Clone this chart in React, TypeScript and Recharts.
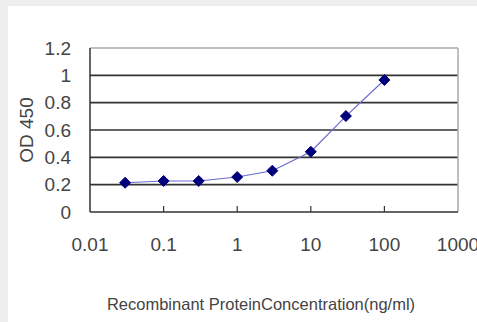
import React from "react";
import { LineChart, Line, XAxis, YAxis, ReferenceLine, Label } from "recharts";

const concentrations = [0.03, 0.1, 0.3, 1, 3, 10, 30, 100];
const odValues = [0.214, 0.227, 0.227, 0.256, 0.302, 0.441, 0.702, 0.966];
const xTicks = [0.01, 0.1, 1, 10, 100, 1000];
const yTicks = [0, 0.2, 0.4, 0.6, 0.8, 1, 1.2];
const gridValues = [0.2, 0.4, 0.6, 0.8, 1];

const data = concentrations.map((c, i) => ({ conc: c, od: odValues[i] }));

const FONT = "'Liberation Sans', Arial, sans-serif";
const TEXT = "#444";

const XTick = (props: any) => {
  const { x, y, payload } = props;
  const axisY = y - 26;
  const isEnd = payload.value === 0.01 || payload.value === 1000;
  return (
    <g>
      {!isEnd && <line x1={x} x2={x} y1={axisY} y2={axisY - 6} stroke="#333" strokeWidth={1.2} />}
      <text x={x} y={y} dy="0.71em" textAnchor="middle" fill={TEXT} fontSize={19} fontFamily={FONT}>
        {String(payload.value)}
      </text>
    </g>
  );
};

const Diamond = (props: any) => {
  const { cx, cy, index } = props;
  if (cx == null || cy == null) return null;
  const r = 5.5;
  return (
    <path
      key={`d-${index}`}
      d={`M${cx},${cy - r}L${cx + r},${cy}L${cx},${cy + r}L${cx - r},${cy}Z`}
      fill="#00007a"
      stroke="#00007a"
      strokeWidth={1}
    />
  );
};

export default function App() {
  return (
    <div style={{ position: "absolute", left: 0, top: 0, width: 477, height: 322, background: "#eeeeee", overflow: "hidden" }}>
      <div style={{ position: "absolute", left: 8, top: 6, width: 469, height: 316, background: "#ffffff" }}>
        <LineChart
          width={469}
          height={316}
          data={data}
          margin={{ top: 42, right: 19, bottom: 10, left: 10 }}
          style={{ overflow: "visible" }}
        >
          <XAxis
            dataKey="conc"
            type="number"
            scale="log"
            domain={[0.01, 1000]}
            ticks={xTicks}
            allowDataOverflow
            height={100}
            tickSize={0}
            tickMargin={26}
            tick={<XTick />}
            axisLine={{ stroke: "#333", strokeWidth: 1.5 }}
            tickLine={false}
            interval={0}
          >
            <Label
              content={(p: any) => {
                const vb = p.viewBox;
                return (
                  <text
                    x={vb.x + vb.width / 2 - 13}
                    y={vb.y + vb.height - 2}
                    textAnchor="middle"
                    fill={TEXT}
                    fontSize={16.5}
                    fontFamily={FONT}
                  >
                    Recombinant ProteinConcentration(ng/ml)
                  </text>
                );
              }}
            />
          </XAxis>
          <YAxis
            type="number"
            domain={[0, 1.2]}
            ticks={yTicks}
            width={72}
            tickSize={0}
            tickMargin={19}
            tick={{ fill: TEXT, fontSize: 19, fontFamily: FONT }}
            axisLine={{ stroke: "#333", strokeWidth: 1.5 }}
            tickLine={false}
            interval={0}
          >
            <Label
              content={(p: any) => {
                const vb = p.viewBox;
                const cx = vb.x + 8;
                const cy = vb.y + vb.height / 2;
                return (
                  <text
                    x={cx}
                    y={cy}
                    dy="0.355em"
                    textAnchor="middle"
                    transform={`rotate(-90, ${cx}, ${cy})`}
                    fill={TEXT}
                    fontSize={19}
                    fontFamily={FONT}
                  >
                    OD 450
                  </text>
                );
              }}
            />
          </YAxis>
          {gridValues.map((v) => (
            <ReferenceLine key={v} y={v} stroke="#333" strokeWidth={1.6} />
          ))}
          <ReferenceLine y={1.2} stroke="#aaaaaa" strokeWidth={1.5} />
          <ReferenceLine x={1000} stroke="#aaaaaa" strokeWidth={1.5} />
          <Line
            type="linear"
            dataKey="od"
            stroke="#6a6ad0"
            strokeWidth={1.2}
            dot={<Diamond />}
            activeDot={false}
            isAnimationActive={false}
          />
        </LineChart>
      </div>
    </div>
  );
}
